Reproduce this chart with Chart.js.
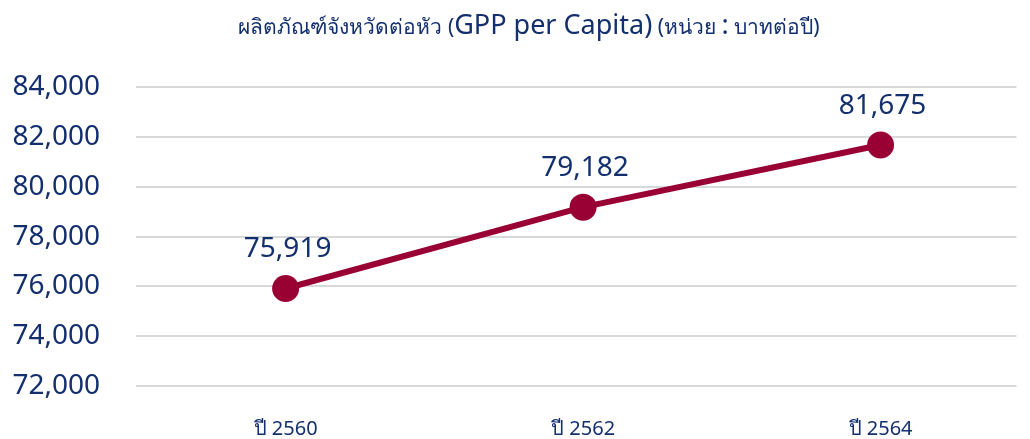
<!DOCTYPE html>
<html>
<head>
<meta charset="utf-8">
<script src="https://cdn.jsdelivr.net/npm/chart.js@4/dist/chart.umd.min.js"></script>
<style>
  html, body { margin: 0; padding: 0; background: #fff; overflow: hidden; }
  #wrap { position: relative; width: 1030px; height: 439px; overflow: hidden; }
  #title {
    position: absolute; left: 0; top: 5px; width: 1030px; box-sizing: border-box;
    padding-left: 28px;
    text-align: center; white-space: nowrap; color: #132f6e;
    font-family: "Noto Sans", sans-serif; font-size: 21px;
  }
  #title .big { font-size: 27px; }
</style>
</head>
<body>
<div id="wrap">
  <div id="title">ผลิตภัณฑ์จังหวัดต่อหัว (<span class="big">GPP per Capita)</span> (หน่วย <span class="big">:</span> บาทต่อปี)</div>
  <canvas id="gpp-chart" width="1030" height="439"></canvas>
</div>
<script>
// Data
let years = ['ปี 2560', 'ปี 2562', 'ปี 2564'];
let gppValues = [75919, 79182, 81675];
// y axis range
let yMin = 72000;
let yMax = 84000;
let yStep = 2000;

const navy = '#132f6e';
const lineColor = '#990033';

// draw the value above each point
const valueLabels = {
  id: 'valueLabels',
  afterDatasetsDraw(chart) {
    const ctx = chart.ctx;
    const meta = chart.getDatasetMeta(0);
    ctx.save();
    ctx.font = '28px "Noto Sans", sans-serif';
    ctx.fillStyle = navy;
    ctx.textAlign = 'center';
    ctx.textBaseline = 'alphabetic';
    meta.data.forEach((pt, i) => {
      ctx.fillText(gppValues[i].toLocaleString('en-US'), pt.x + 2, pt.y - 31);
    });
    ctx.restore();
  }
};

// x positions are the year index; the plot runs a bit past the right edge
let gppChart = new Chart('gpp-chart', {
  type: 'line',
  data: {
    datasets: [{
      data: gppValues.map((v, i) => ({ x: i, y: v })),
      borderColor: lineColor,
      backgroundColor: lineColor,
      borderWidth: 6,
      pointRadius: 13.5,
      pointHoverRadius: 13.5,
      pointBackgroundColor: lineColor,
      pointBorderWidth: 0,
      tension: 0,
      fill: false
    }]
  },
  options: {
    responsive: false,
    animation: false,
    layout: { padding: { top: 87, right: 0, left: 0, bottom: 0 } },
    plugins: {
      legend: { display: false },
      tooltip: { enabled: false }
    },
    scales: {
      x: {
        type: 'linear',
        min: -0.503,
        max: 2.457,
        grid: { display: false },
        border: { display: false },
        afterBuildTicks(scale) {
          scale.ticks = years.map((y, i) => ({ value: i }));
        },
        ticks: {
          color: navy,
          padding: 23,
          maxRotation: 0,
          font: { family: '"Noto Sans", sans-serif', size: 20 },
          callback: (v) => years[v]
        },
        afterFit(scale) { scale.height = 52; }
      },
      y: {
        min: yMin,
        max: yMax,
        border: { display: false },
        grid: { color: '#d9d9d9', lineWidth: 2, drawTicks: false },
        ticks: {
          stepSize: yStep,
          color: navy,
          padding: 36,
          font: { family: '"Noto Sans", sans-serif', size: 28 },
          callback: (v) => v.toLocaleString('en-US')
        },
        afterFit(scale) { scale.width = 136; }
      }
    }
  },
  plugins: [valueLabels]
});
</script>
</body>
</html>
